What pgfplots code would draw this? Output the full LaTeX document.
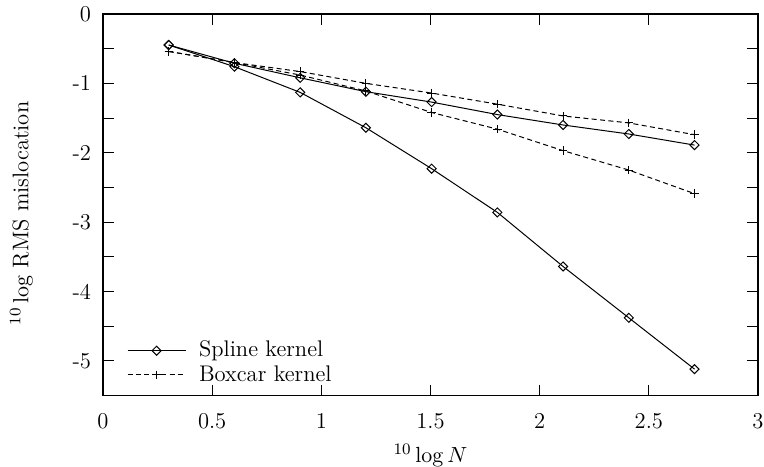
\documentclass[border=0pt]{standalone}
\usepackage{pgfplots}
\pgfplotsset{compat=1.18}
\begin{document}
\fontsize{11.3}{13.8}\selectfont
\begin{tikzpicture}
\useasboundingbox (-51.5pt,-35.25pt) rectangle (330.5pt,197.75pt);
\begin{axis}[
  at={(0,0)}, anchor=south west,
  scale only axis, width=327.5pt, height=190.75pt,
  xmin=0, xmax=3, ymin=-5.5, ymax=0,
  axis line style={line width=0.8pt},
  tick style={line width=0.5pt, black},
  major tick length=5.5pt,
  tick align=inside,
  xtick={0,0.5,1,1.5,2,2.5,3},
  xticklabels={0,0.5,1,1.5,2,2.5,3},
  ytick={-5,-4.5,-4,-3.5,-3,-2.5,-2,-1.5,-1,-0.5,0},
  yticklabels={-5,{},-4,{},-3,{},-2,{},-1,{},0},
  xticklabel style={yshift=-5pt},
  yticklabel style={xshift=-2pt},
  xlabel={$^{10}\log N$},
  ylabel={$^{10}\log$ RMS mislocation},
  xlabel style={at={(axis description cs:0.5,-0.1756)}, anchor=base},
  ylabel style={at={(axis description cs:-0.1246,0.477)}, anchor=center},
  legend image code/.code={\draw[mark repeat=2,mark phase=2,#1] plot coordinates {(0pt,0pt)(14.5pt,0pt)(29pt,0pt)};},
  legend style={draw=none, fill=none, at={(axis description cs:0.027,0.007)}, anchor=south west,
    cells={anchor=west}, row sep=-1.5pt, column sep=4.5pt, font=\fontsize{11.3}{13.8}\selectfont},
]
\addplot[black, line width=0.5pt, mark=square, mark size=1.6pt, mark options={rotate=45, solid, fill=white}]
  coordinates {(0.30103,-0.447)(0.60206,-0.76)(0.90309,-1.13)(1.20412,-1.64)(1.50515,-2.23)(1.80618,-2.86)(2.10721,-3.64)(2.40824,-4.38)(2.70927,-5.12)};
\addlegendentry{Spline kernel}
\addplot[black, line width=0.5pt, dash pattern=on 2.5pt off 1.7pt, mark=+, mark size=2.1pt, mark options={solid}]
  coordinates {(0.30103,-0.54)(0.60206,-0.70)(0.90309,-0.83)(1.20412,-1.00)(1.50515,-1.14)(1.80618,-1.30)(2.10721,-1.47)(2.40824,-1.57)(2.70927,-1.74)};
\addlegendentry{Boxcar kernel}
\addplot[black, line width=0.5pt, dash pattern=on 2.5pt off 1.7pt, mark=+, mark size=2.1pt, mark options={solid}, forget plot]
  coordinates {(0.30103,-0.54)(0.60206,-0.70)(0.90309,-0.88)(1.20412,-1.11)(1.50515,-1.42)(1.80618,-1.66)(2.10721,-1.97)(2.40824,-2.25)(2.70927,-2.59)};
\addplot[black, line width=0.5pt, mark=square, mark size=1.6pt, mark options={rotate=45, solid, fill=white}, forget plot]
  coordinates {(0.30103,-0.447)(0.60206,-0.71)(0.90309,-0.92)(1.20412,-1.12)(1.50515,-1.27)(1.80618,-1.45)(2.10721,-1.60)(2.40824,-1.73)(2.70927,-1.89)};
\end{axis}
\end{tikzpicture}
\end{document}
